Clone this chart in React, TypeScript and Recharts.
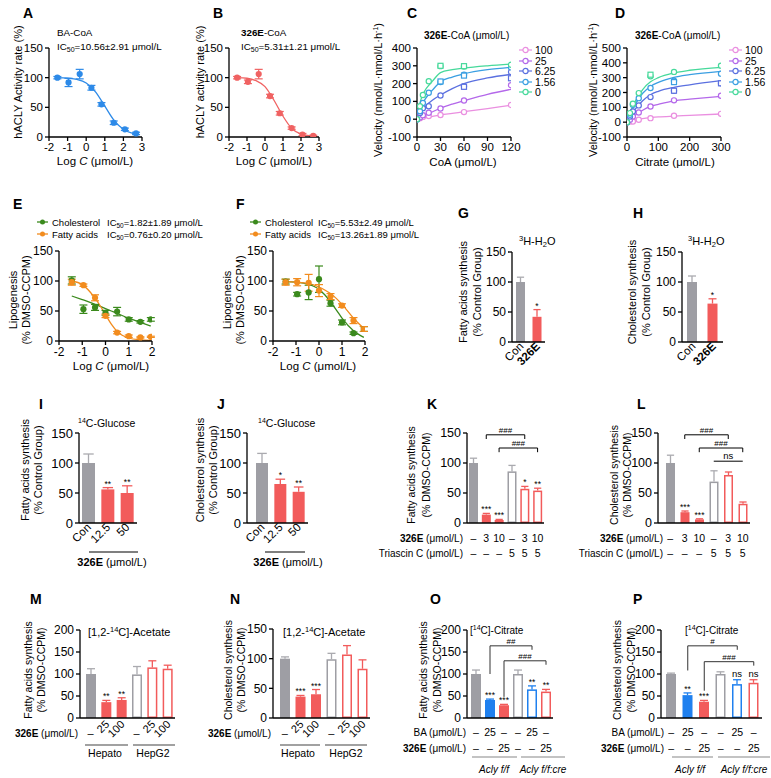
import React from "react";
import {
  ComposedChart,
  Line,
  Scatter,
  Bar,
  XAxis,
  YAxis,
  ErrorBar,
  ReferenceLine,
  Legend,
} from "recharts";

const PAGE_W = 771;
const PAGE_H = 778;
const Y_W = 40;
const X_H = 30;
const FONT = '"Liberation Sans", Arial, Helvetica, sans-serif';

// ---- A / B: hACLY activity vs log dose ----
const abLogC = [-1.55, -0.95, -0.35, 0.28, 0.82, 1.48, 2.08, 2.68];
const baCoaRate = [100, 92, 106, 83, 55, 24, 13, 6];
const baCoaErr = [2, 7, 8, 4, 3, 3, 2, 2];
const e326CoaRate = [100, 93, 106, 69, 40, 15, 4, 2];
const e326CoaErr = [2, 3, 8, 3, 3, 2, 2, 1];
const abFitLogC = [-1.55, -1, -0.5, 0, 0.5, 1, 1.5, 2, 2.5, 2.7];
const baCoaFit = [100, 99, 97, 91, 76, 52, 28, 13, 6, 5];
const e326CoaFit = [100, 99, 95, 85, 62, 35, 14, 5, 2, 1];

// ---- C: velocity vs CoA ----
const concLabels = ["100", "25", "6.25", "1.56", "0"];
const concColors = ["#ea8fe0", "#b468ea", "#5b70e0", "#3a9fe2", "#46d99b"];
const coaConc = [0, 3.75, 7.5, 15, 30, 60, 120];
const coaV100 = [0, 5, 13, 18, 24, 40, 80];
const coaV25 = [0, 10, 22, 36, 60, 105, 191];
const coaV625 = [0, 35, 62, 73, 133, 185, 265];
const coaV156 = [0, 45, 91, 149, 209, 250, 291];
const coaV0 = [0, 73, 136, 213, 298, 296, 306];
// replicate points drawn as squares
const coaSqX625 = [60, 120];
const coaSqY625 = [182, 230];
const coaSqX156 = [30, 60];
const coaSqY156 = [212, 245];
const coaSqX0 = [30, 60];
const coaSqY0 = [300, 298];
const coaFitX = [1, 5, 10, 15, 20, 30, 45, 60, 90, 120];
const coaFit100 = [1, 5, 9, 12, 16, 24, 33, 42, 60, 78];
const coaFit25 = [3, 14, 24, 33, 42, 62, 85, 104, 140, 168];
const coaFit625 = [8, 40, 68, 91, 108, 136, 172, 200, 232, 252];
const coaFit156 = [15, 70, 110, 140, 165, 210, 237, 255, 278, 292];
const coaFit0 = [25, 110, 160, 190, 215, 262, 278, 287, 300, 310];

// ---- D: velocity vs citrate ----
const citConc = [0, 9.4, 18.75, 37.5, 75, 150, 300];
const citV100 = [0, 5, 5, 16, 27, 43, 56];
const citV25 = [0, 16, 38, 65, 106, 147, 178];
const citV625 = [0, 38, 72, 113, 169, 212, 262];
const citV156 = [0, 50, 117, 162, 230, 280, 327];
const citV0 = [0, 61, 125, 196, 310, 339, 381];
const citSqX625 = [150, 300];
const citSqY625 = [212, 262];
const citSqX156 = [150];
const citSqY156 = [270];
const citSqX0 = [75];
const citSqY0 = [320];
const citFitX = [2, 10, 25, 50, 75, 100, 150, 200, 300];
const citFit100 = [2, 8, 16, 24, 30, 35, 41, 46, 55];
const citFit25 = [5, 20, 45, 80, 106, 120, 144, 155, 174];
const citFit625 = [10, 40, 85, 145, 185, 208, 235, 252, 280];
const citFit156 = [12, 55, 115, 195, 241, 268, 302, 320, 343];
const citFit0 = [15, 65, 135, 220, 272, 300, 332, 350, 370];

// ---- E / F: lipogenesis ----
const lipoNames = ["Cholesterol", "Fatty acids"];
const lipoColors = ["#3b8a1d", "#f28c1e"];
const lipoLogC = [-1.45, -0.95, -0.45, 0, 0.5, 1, 1.5, 1.95];
const eChol = [101, 53, 56, 47, 49, 36, 32, 36];
const eCholErr = [6, 7, 5, 4, 7, 3, 2, 3];
const eFa = [98, 93, 72, 42, 14, 8, 6, 7];
const eFaErr = [5, 2, 5, 3, 2, 2, 1, 1];
const eFitX = [-1.45, -1, -0.5, -0.25, 0, 0.25, 0.5, 1, 1.5, 1.95];
const eCholFit = [75, 69, 62, 58, 54, 50, 46, 38, 31, 25];
const eFaFit = [100, 94, 74, 60, 44, 28, 16, 5, 2, 1];
const eIc50 = ["1.82±1.89", "0.76±0.20"];
const fChol = [99, 78, 81, 103, 63, 31, 13, 20];
const fCholErr = [4, 3, 12, 22, 5, 4, 2, 4];
const fFa = [98, 98, 97, 84, 74, 59, 34, 20];
const fFaErr = [5, 6, 14, 10, 5, 3, 5, 4];
const fFitX = [-1.45, -1, -0.5, 0, 0.25, 0.5, 0.75, 1, 1.5, 1.95];
const fCholFit = [99, 98, 95, 86, 77, 65, 52, 38, 17, 6];
const fFaFit = [99, 98, 96, 90, 85, 79, 71, 61, 38, 21];
const fIc50 = ["5.53±2.49", "13.26±1.89"];

// ---- G-P: bar panels ----
const ghLabels = ["Con", "326E"];
const gValues = [100, 42];
const gErrs = [8, 12];
const gStars = ["", "*"];
const hValues = [100, 64];
const hErrs = [10, 8];
const hStars = ["", "*"];
const ijLabels = ["Con", "12.5", "50"];
const iValues = [100, 56, 50];
const iErrs = [15, 3, 12];
const iStars = ["", "**", "**"];
const jValues = [100, 65, 52];
const jErrs = [16, 8, 8];
const jStars = ["", "*", "**"];
const klDose = ["–", "3", "10", "–", "3", "10"];
const klTriascin = ["–", "–", "–", "5", "5", "5"];
const kValues = [100, 14, 5, 86, 57, 54];
const kErrs = [8, 2, 1, 10, 4, 4];
const kStars = ["", "***", "***", "", "*", "**"];
const lValues = [100, 18, 6, 69, 80, 32];
const lErrs = [13, 2, 1, 18, 5, 3];
const lStars = ["", "***", "***", "", "", ""];
const mnDose = ["–", "25", "100", "–", "25", "100"];
const mValues = [100, 36, 41, 99, 115, 112];
const mErrs = [12, 4, 5, 18, 15, 8];
const mStars = ["", "**", "**", "", "", ""];
const nValues = [100, 36, 40, 99, 107, 83];
const nErrs = [3, 2, 8, 10, 15, 15];
const nStars = ["", "***", "***", "", "", ""];
const opBA = ["–", "25", "–", "–", "25", "–"];
const op326E = ["–", "–", "25", "–", "–", "25"];
const oValues = [100, 41, 29, 100, 65, 60];
const oErrs = [9, 2, 2, 9, 8, 5];
const oStars = ["", "***", "***", "", "**", "**"];
const pValues = [100, 52, 37, 100, 77, 80];
const pErrs = [2, 5, 3, 5, 10, 7];
const pStars = ["", "**", "***", "", "ns", "ns"];

const twoKinds = ["gray-fill", "red-fill"];
const threeKinds = ["gray-fill", "red-fill", "red-fill"];
const sixKinds = ["gray-fill", "red-fill", "red-fill", "gray-open", "red-open", "red-open"];
const opKinds = ["gray-fill", "blue-fill", "red-fill", "gray-open", "blue-open", "red-open"];

const kBrackets = [
  { from: 1, to: 4, y: 147, dl: 140, dr: 140, text: "###" },
  { from: 2, to: 5, y: 125, dl: 118, dr: 118, text: "###" },
];
const lBrackets = [
  { from: 1, to: 4, y: 147, dl: 140, dr: 140, text: "###" },
  { from: 2, to: 5, y: 125, dl: 118, dr: 118, text: "###" },
  { from: 3, to: 5, y: 103, dl: 103, dr: 103, text: "ns" },
];
const oBrackets = [
  { from: 1, to: 4, y: 164, dl: 100, dr: 155, text: "##" },
  { from: 2, to: 5, y: 130, dl: 48, dr: 121, text: "###" },
];
const pBrackets = [
  { from: 1, to: 4, y: 164, dl: 108, dr: 155, text: "#" },
  { from: 2, to: 5, y: 128, dl: 62, dr: 119, text: "###" },
];

const barColor: Record<string, string> = { gray: "#9e9ea4", red: "#f25b5b", blue: "#1f80ef" };
const errColor: Record<string, string> = { gray: "#aaaaaf", red: "#f25b5b", blue: "#1f80ef" };

const AX = { stroke: "#000", strokeWidth: 1.3 };

type Box = { x0: number; x1: number; y0: number; y1: number };

function marginFor(b: Box) {
  return { left: b.x0 - Y_W, right: PAGE_W - b.x1, top: b.y0, bottom: PAGE_H - b.y1 - X_H };
}

const zip = (xs: number[], ys: number[], es?: number[]) =>
  xs.map((x, i) => ({ x, y: ys[i], e: es ? es[i] : 0 }));

function Layer({ children }: { children: React.ReactNode }) {
  return <div style={{ position: "absolute", left: 0, top: 0 }}>{children}</div>;
}

type Pt = { x: number; y: number; e: number };
type Series = {
  name: string;
  color: string;
  fit: { x: number; y: number }[];
  pts: Pt[];
  sq?: Pt[];
  hollow?: boolean;
  err?: boolean;
};

function CurvePanel({
  box,
  xDomain,
  xTicks,
  yDomain,
  yTicks,
  series,
  legend,
  tickFs = 11.5,
}: {
  box: Box;
  xDomain: number[];
  xTicks: number[];
  yDomain: number[];
  yTicks: number[];
  series: Series[];
  legend?: { left: number; top: number; node: React.ReactNode };
  tickFs?: number;
}) {
  const tick = { fill: "#000", fontSize: tickFs };
  return (
    <Layer>
      <ComposedChart width={PAGE_W} height={PAGE_H} margin={marginFor(box)}>
        <XAxis
          type="number"
          dataKey="x"
          domain={xDomain}
          ticks={xTicks}
          interval={0}
          allowDataOverflow
          height={X_H}
          axisLine={AX}
          tickLine={AX}
          tickSize={4}
          tick={tick}
        />
        <YAxis
          type="number"
          dataKey="y"
          domain={yDomain}
          ticks={yTicks}
          interval={0}
          allowDataOverflow
          width={Y_W}
          axisLine={AX}
          tickLine={AX}
          tickSize={4}
          tick={tick}
        />
        {series.map((s) => (
          <Line
            key={"l" + s.name}
            name={s.name}
            data={s.fit}
            dataKey="y"
            type="monotone"
            stroke={s.color}
            strokeWidth={1.3}
            dot={false}
            isAnimationActive={false}
          />
        ))}
        {series.map((s) => (
          <Scatter
            key={"s" + s.name}
            data={s.pts}
            dataKey="y"
            fill={s.color}
            legendType="none"
            isAnimationActive={false}
            shape={(p: any) =>
              s.hollow ? (
                <circle cx={p.cx} cy={p.cy} r={2.6} fill="#fff" stroke={s.color} strokeWidth={1.2} />
              ) : (
                <circle cx={p.cx} cy={p.cy} r={3.1} fill={s.color} />
              )
            }
          >
            {s.err && <ErrorBar dataKey="e" direction="y" width={4} stroke={s.color} strokeWidth={1.2} />}
          </Scatter>
        ))}
        {series
          .filter((s) => s.sq && s.sq.length)
          .map((s) => (
            <Scatter
              key={"q" + s.name}
              data={s.sq}
              dataKey="y"
              fill={s.color}
              legendType="none"
              isAnimationActive={false}
              shape={(p: any) => (
                <rect
                  x={p.cx - 2.5}
                  y={p.cy - 2.5}
                  width={5}
                  height={5}
                  fill="#fff"
                  stroke={s.color}
                  strokeWidth={1.2}
                />
              )}
            />
          ))}
        {legend && (
          <Legend
            layout="vertical"
            align="center"
            verticalAlign="middle"
            wrapperStyle={{ left: legend.left, top: legend.top, width: "auto" }}
            content={() => legend.node}
          />
        )}
      </ComposedChart>
    </Layer>
  );
}

function ConcLegend() {
  return (
    <div style={{ fontSize: 10.5, color: "#000", fontFamily: FONT }}>
      {concLabels.map((c, i) => (
        <div key={c} style={{ display: "flex", alignItems: "center", height: 10.5, whiteSpace: "nowrap" }}>
          <svg width={13} height={8} style={{ marginRight: 3 }}>
            <line x1={0} y1={4} x2={13} y2={4} stroke={concColors[i]} strokeWidth={1.2} />
            <circle cx={6.5} cy={4} r={2.6} fill="#fff" stroke={concColors[i]} strokeWidth={1.2} />
          </svg>
          <span>{c}</span>
        </div>
      ))}
    </div>
  );
}

function IcLegend({ ics, nameW }: { ics: string[]; nameW: number }) {
  return (
    <div style={{ fontSize: 9.5, color: "#000", fontFamily: FONT }}>
      {lipoNames.map((n, i) => (
        <div key={n} style={{ display: "flex", alignItems: "center", height: 12, whiteSpace: "nowrap" }}>
          <svg width={11} height={8} style={{ marginRight: 4 }}>
            <line x1={0} y1={4} x2={11} y2={4} stroke={lipoColors[i]} strokeWidth={1.3} />
            <circle cx={5.5} cy={4} r={2.5} fill={lipoColors[i]} />
          </svg>
          <span style={{ display: "inline-block", width: nameW }}>{n}</span>
          <span>
            IC<span style={{ fontSize: 6.5, position: "relative", top: 2 }}>50</span>={ics[i]} μmol/L
          </span>
        </div>
      ))}
    </div>
  );
}

function BarShape(props: any) {
  const { x, y, width, height, payload } = props;
  const [tone, style] = String(payload.kind).split("-");
  const col = barColor[tone];
  const ecol = errColor[tone];
  const hollow = style === "open";
  const per = payload.v ? height / payload.v : 0;
  const top = y - payload.err * per;
  const cx = x + width / 2;
  const cap = width * 0.4;
  return (
    <g>
      {hollow ? (
        <rect
          x={x + 0.75}
          y={y + 0.75}
          width={Math.max(width - 1.5, 0)}
          height={Math.max(height - 1.5, 0)}
          fill="#fff"
          stroke={col}
          strokeWidth={1.5}
        />
      ) : (
        <rect x={x} y={y} width={width} height={height} fill={col} />
      )}
      {payload.err > 0 && (
        <g stroke={ecol} strokeWidth={1.3}>
          <line x1={cx} x2={cx} y1={y} y2={top} />
          <line x1={cx - cap} x2={cx + cap} y1={top} y2={top} />
        </g>
      )}
      {payload.star && (
        <text
          x={cx}
          y={payload.star === "ns" ? top - 3 : top - 1}
          textAnchor="middle"
          fontSize={payload.star === "ns" ? 9.5 : 8.5}
          fill="#000"
        >
          {payload.star}
        </text>
      )}
    </g>
  );
}

type Bracket = { from: number; to: number; y: number; dl: number; dr: number; text: string };

function BarPanel({
  box,
  padLeft = 0,
  yMax,
  yTicks,
  values,
  errs,
  kinds,
  stars,
  barSize,
  brackets = [],
  tick,
  bracketColor = "#000",
  tickFs = 12,
}: {
  box: Box;
  padLeft?: number;
  yMax: number;
  yTicks: number[];
  values: number[];
  errs: number[];
  kinds: string[];
  stars: string[];
  barSize: number;
  brackets?: Bracket[];
  tick: any;
  bracketColor?: string;
  tickFs?: number;
}) {
  const data = values.map((v, i) => ({ name: String(i), v, err: errs[i], kind: kinds[i], star: stars[i] }));
  return (
    <Layer>
      <ComposedChart width={PAGE_W} height={PAGE_H} margin={marginFor(box)} data={data}>
        <XAxis
          dataKey="name"
          type="category"
          height={X_H}
          axisLine={AX}
          tickLine={false}
          tickSize={0}
          tickMargin={0}
          interval={0}
          padding={{ left: padLeft, right: 0 }}
          tick={tick}
        />
        <YAxis
          type="number"
          domain={[0, yMax]}
          ticks={yTicks}
          interval={0}
          width={Y_W}
          axisLine={AX}
          tickLine={AX}
          tickSize={4}
          tick={{ fill: "#000", fontSize: tickFs }}
        />
        <Bar dataKey="v" barSize={barSize} shape={BarShape} isAnimationActive={false} />
        {brackets.flatMap((b, k) => {
          const a = String(b.from);
          const z = String(b.to);
          const out = [
            <ReferenceLine
              key={"h" + k}
              segment={[
                { x: a, y: b.y },
                { x: z, y: b.y },
              ]}
              stroke={bracketColor}
              strokeWidth={1}
              label={(p: any) => {
                const vb = p.viewBox || {};
                return (
                  <text
                    x={(vb.x || 0) + (vb.width || 0) / 2}
                    y={(vb.y || 0) - 2}
                    textAnchor="middle"
                    fontSize={b.text === "ns" ? 9.5 : 8}
                    fill="#000"
                  >
                    {b.text}
                  </text>
                );
              }}
            />,
          ];
          if (b.dl !== b.y)
            out.push(
              <ReferenceLine
                key={"l" + k}
                segment={[
                  { x: a, y: b.y },
                  { x: a, y: b.dl },
                ]}
                stroke={bracketColor}
                strokeWidth={1}
              />
            );
          if (b.dr !== b.y)
            out.push(
              <ReferenceLine
                key={"r" + k}
                segment={[
                  { x: z, y: b.y },
                  { x: z, y: b.dr },
                ]}
                stroke={bracketColor}
                strokeWidth={1}
              />
            );
          return out;
        })}
      </ComposedChart>
    </Layer>
  );
}

const rotTick = (labels: string[], boldIdx: number, fs: number, dx: number) => (p: any) => (
  <text
    transform={`translate(${p.x + dx},${p.y + 5}) rotate(-45)`}
    textAnchor="end"
    fontSize={fs}
    fontWeight={p.index === boldIdx ? "bold" : "normal"}
    fill="#000"
  >
    {labels[p.index]}
  </text>
);

const rowsTick = (rows: string[][], dys: number[], fs: number) => (p: any) => (
  <g>
    {rows.map((r, k) => (
      <text key={k} x={p.x} y={p.y + dys[k]} textAnchor="middle" fontSize={fs} fill="#000">
        {r[p.index]}
      </text>
    ))}
  </g>
);

const mnTick = (p: any) => {
  const lab = mnDose[p.index];
  if (lab === "–")
    return (
      <text x={p.x} y={p.y + 19} textAnchor="middle" fontSize={11} fill="#000">
        {lab}
      </text>
    );
  return (
    <text transform={`translate(${p.x + 4},${p.y + 7}) rotate(-45)`} textAnchor="end" fontSize={11} fill="#000">
      {lab}
    </text>
  );
};

// ---------- free text ----------
function T({
  x,
  y,
  fs = 10,
  anchor = "start",
  bold = false,
  italic = false,
  children,
}: {
  x: number;
  y: number;
  fs?: number;
  anchor?: string;
  bold?: boolean;
  italic?: boolean;
  children: React.ReactNode;
}) {
  return (
    <text
      x={x}
      y={y}
      fontSize={fs}
      textAnchor={anchor as any}
      fontWeight={bold ? "bold" : "normal"}
      fontStyle={italic ? "italic" : "normal"}
      fill="#000"
    >
      {children}
    </text>
  );
}

function RT({ cx, cy, fs = 10.5, children }: { cx: number; cy: number; fs?: number; children: React.ReactNode }) {
  return (
    <text transform={`translate(${cx + fs * 0.36},${cy}) rotate(-90)`} textAnchor="middle" fontSize={fs} fill="#000">
      {children}
    </text>
  );
}

function Overlay() {
  const letters: [string, number, number][] = [
    ["A", 23, 18], ["B", 213, 18], ["C", 407, 18], ["D", 615, 18],
    ["E", 13, 209], ["F", 236, 209], ["G", 458, 218], ["H", 633, 218],
    ["I", 39, 409], ["J", 217, 409], ["K", 427, 409], ["L", 637, 409],
    ["M", 30, 604], ["N", 230, 604], ["O", 430, 604], ["P", 633, 604],
  ];
  const logC = (x: number, y: number) => (
    <T x={x} y={y} fs={11.5} anchor="middle">
      Log <tspan fontStyle="italic">C</tspan> (μmol/L)
    </T>
  );
  const line = (x1: number, x2: number, y: number, c: string) => (
    <line x1={x1} x2={x2} y1={y} y2={y} stroke={c} strokeWidth={1.2} />
  );
  return (
    <svg
      width={PAGE_W}
      height={PAGE_H}
      style={{ position: "absolute", left: 0, top: 0, pointerEvents: "none", fontFamily: FONT }}
    >
      {letters.map(([l, x, y]) => (
        <T key={l} x={x} y={y} fs={14} bold>
          {l}
        </T>
      ))}
      {/* A-D titles */}
      <T x={57} y={36} fs={9.8}>BA-CoA</T>
      <T x={57} y={50} fs={9.8}>
        IC<tspan fontSize={7} dy={2}>50</tspan>
        <tspan dy={-2}>=10.56±2.91 μmol/L</tspan>
      </T>
      <T x={241} y={36} fs={9.8}>
        <tspan fontWeight="bold">326E</tspan>-CoA
      </T>
      <T x={241} y={50} fs={9.8}>
        IC<tspan fontSize={7} dy={2}>50</tspan>
        <tspan dy={-2}>=5.31±1.21 μmol/L</tspan>
      </T>
      <T x={424} y={39} fs={10}>
        <tspan fontWeight="bold">326E</tspan>-CoA (μmol/L)
      </T>
      <T x={635} y={39} fs={10}>
        <tspan fontWeight="bold">326E</tspan>-CoA (μmol/L)
      </T>
      {logC(95, 165)}
      {logC(274, 165)}
      <T x={463} y={166} fs={11.5} anchor="middle">CoA (μmol/L)</T>
      <T x={675} y={166} fs={11.5} anchor="middle">Citrate (μmol/L)</T>
      <RT cx={18} cy={82} fs={11}>hACLY Activity rate (%)</RT>
      <RT cx={200} cy={82} fs={11}>hACLY activity rate (%)</RT>
      <RT cx={378} cy={90} fs={11}>
        Velocity (nmol/L·nmol/L·h<tspan fontSize={7} dy={-4}>-1</tspan>
        <tspan dy={4}>)</tspan>
      </RT>
      <RT cx={593} cy={90} fs={11}>
        Velocity (nmol/L·nmol/L·h<tspan fontSize={7} dy={-4}>-1</tspan>
        <tspan dy={4}>)</tspan>
      </RT>
      {/* E / F */}
      {logC(111, 370)}
      {logC(318, 370)}
      <RT cx={13} cy={300} fs={11}>Lipogenesis</RT>
      <RT cx={26} cy={300} fs={11}>(% DMSO-CCPM)</RT>
      <RT cx={227} cy={300} fs={11}>Lipogenesis</RT>
      <RT cx={240} cy={300} fs={11}>(% DMSO-CCPM)</RT>
      {/* G / H */}
      {[519, 688].map((x) => (
        <T key={x} x={x} y={245} fs={11}>
          <tspan fontSize={7.5} dy={-4}>3</tspan>
          <tspan dy={4}>H-H</tspan>
          <tspan fontSize={7.5} dy={2}>2</tspan>
          <tspan dy={-2}>O</tspan>
        </T>
      ))}
      <RT cx={463} cy={292} fs={11}>Fatty acids synthesis</RT>
      <RT cx={477} cy={292} fs={11}>(% Control Group)</RT>
      <RT cx={632} cy={292} fs={11}>Cholesterol synthesis</RT>
      <RT cx={646} cy={292} fs={11}>(% Control Group)</RT>
      {/* I / J */}
      {[78, 258].map((x) => (
        <T key={x} x={x} y={427} fs={10.5}>
          <tspan fontSize={7} dy={-4}>14</tspan>
          <tspan dy={4}>C-Glucose</tspan>
        </T>
      ))}
      <RT cx={25} cy={470} fs={11}>Fatty acids synthesis</RT>
      <RT cx={38} cy={470} fs={11}>(% Control Group)</RT>
      <RT cx={200} cy={470} fs={11}>Cholesterol synthesis</RT>
      <RT cx={213} cy={470} fs={11}>(% Control Group)</RT>
      {line(89, 138, 552, "#000")}
      {line(265, 305, 552, "#000")}
      <T x={112} y={566} fs={11} anchor="middle">
        <tspan fontWeight="bold">326E</tspan> (μmol/L)
      </T>
      <T x={288} y={566} fs={11} anchor="middle">
        <tspan fontWeight="bold">326E</tspan> (μmol/L)
      </T>
      {/* K / L */}
      <RT cx={411} cy={475} fs={10.5}>Fatty acids synthesis</RT>
      <RT cx={426} cy={475} fs={10.5}>(% DMSO-CCPM)</RT>
      <RT cx={614} cy={475} fs={10.5}>Cholesterol synthesis</RT>
      <RT cx={627} cy={475} fs={10.5}>(% DMSO-CCPM)</RT>
      {[463, 663].map((x) => (
        <g key={x}>
          <T x={x} y={542} fs={10} anchor="end">
            <tspan fontWeight="bold">326E</tspan> (μmol/L)
          </T>
          <T x={x} y={557} fs={10} anchor="end">Triascin C (μmol/L)</T>
        </g>
      ))}
      {/* M / N */}
      <T x={88} y={636} fs={11}>
        [1,2-<tspan fontSize={7.5} dy={-4}>14</tspan>
        <tspan dy={4}>C]-Acetate</tspan>
      </T>
      <T x={283} y={636} fs={11}>
        [1,2-<tspan fontSize={7.5} dy={-4}>14</tspan>
        <tspan dy={4}>C]-Acetate</tspan>
      </T>
      <RT cx={28} cy={670} fs={10.5}>Fatty acids synthesis</RT>
      <RT cx={41} cy={670} fs={10.5}>(% DMSO-CCPM)</RT>
      <RT cx={228} cy={670} fs={10.5}>Cholesterol synthesis</RT>
      <RT cx={241} cy={670} fs={10.5}>(% DMSO-CCPM)</RT>
      <T x={78} y={737} fs={10} anchor="end">
        <tspan fontWeight="bold">326E</tspan> (μmol/L)
      </T>
      <T x={271} y={737} fs={10} anchor="end">
        <tspan fontWeight="bold">326E</tspan> (μmol/L)
      </T>
      {line(85, 128, 745, "#444")}
      {line(133, 175, 745, "#444")}
      {line(280, 320, 745, "#444")}
      {line(325, 367, 745, "#444")}
      <T x={105} y={757} fs={10.5} anchor="middle">Hepato</T>
      <T x={153} y={757} fs={10.5} anchor="middle">HepG2</T>
      <T x={298} y={757} fs={10.5} anchor="middle">Hepato</T>
      <T x={346} y={757} fs={10.5} anchor="middle">HepG2</T>
      {/* O / P */}
      {[470, 685].map((x) => (
        <T key={x} x={x} y={634} fs={10}>
          [<tspan fontSize={7} dy={-4}>14</tspan>
          <tspan dy={4}>C]-Citrate</tspan>
        </T>
      ))}
      <RT cx={423} cy={670} fs={10.5}>Fatty acids synthesis</RT>
      <RT cx={437} cy={670} fs={10.5}>(% DMSO-CCPM)</RT>
      <RT cx={617} cy={670} fs={10.5}>Cholesterol synthesis</RT>
      <RT cx={631} cy={670} fs={10.5}>(% DMSO-CCPM)</RT>
      {[466, 664].map((x) => (
        <g key={x}>
          <T x={x} y={736} fs={10} anchor="end">BA (μmol/L)</T>
          <T x={x} y={752} fs={10} anchor="end">
            <tspan fontWeight="bold">326E</tspan> (μmol/L)
          </T>
        </g>
      ))}
      {line(472, 517, 757, "#888")}
      {line(521, 565, 757, "#888")}
      {line(672, 713, 757, "#888")}
      {line(718, 770, 757, "#888")}
      <T x={494} y={773} fs={10} anchor="middle" italic>Acly f/f</T>
      <T x={543} y={773} fs={10} anchor="middle" italic>Acly f/f:cre</T>
      <T x={690} y={773} fs={10} anchor="middle" italic>Acly f/f</T>
      <T x={744} y={773} fs={10} anchor="middle" italic>Acly f/f:cre</T>
    </svg>
  );
}

const concSeries = (
  xs: number[],
  vals: number[][],
  fitX: number[],
  fits: number[][],
  sqs: (Pt[] | undefined)[]
): Series[] =>
  concLabels.map((c, i) => ({
    name: c,
    color: concColors[i],
    fit: zip(fitX, fits[i]),
    pts: zip(xs, vals[i]),
    sq: sqs[i],
    hollow: true,
  }));

export default function App() {
  const ticks150 = [0, 50, 100, 150];
  const ticks200 = [0, 50, 100, 150, 200];
  return (
    <div
      style={{
        position: "absolute",
        left: 0,
        top: 0,
        width: PAGE_W,
        height: PAGE_H,
        background: "#fff",
        overflow: "hidden",
        fontFamily: FONT,
      }}
    >
      <CurvePanel
        box={{ x0: 49, x1: 142, y0: 48, y1: 137 }}
        xDomain={[-2, 3]}
        xTicks={[-2, -1, 0, 1, 2, 3]}
        yDomain={[0, 150]}
        yTicks={ticks150}
        series={[
          {
            name: "BA-CoA",
            color: "#2d8ae8",
            fit: zip(abFitLogC, baCoaFit),
            pts: zip(abLogC, baCoaRate, baCoaErr),
            err: true,
          },
        ]}
      />
      <CurvePanel
        box={{ x0: 229, x1: 319, y0: 48, y1: 137 }}
        xDomain={[-2, 3]}
        xTicks={[-2, -1, 0, 1, 2, 3]}
        yDomain={[0, 150]}
        yTicks={ticks150}
        series={[
          {
            name: "326E-CoA",
            color: "#f06262",
            fit: zip(abFitLogC, e326CoaFit),
            pts: zip(abLogC, e326CoaRate, e326CoaErr),
            err: true,
          },
        ]}
      />
      <CurvePanel
        box={{ x0: 417, x1: 511, y0: 48, y1: 137 }}
        xDomain={[0, 120]}
        xTicks={[0, 30, 60, 90, 120]}
        yDomain={[-100, 400]}
        yTicks={[-100, 0, 100, 200, 300, 400]}
        series={concSeries(
          coaConc,
          [coaV100, coaV25, coaV625, coaV156, coaV0],
          coaFitX,
          [coaFit100, coaFit25, coaFit625, coaFit156, coaFit0],
          [undefined, undefined, zip(coaSqX625, coaSqY625), zip(coaSqX156, coaSqY156), zip(coaSqX0, coaSqY0)]
        )}
        legend={{ left: 519, top: 45, node: <ConcLegend /> }}
      />
      <CurvePanel
        box={{ x0: 627, x1: 721, y0: 48, y1: 137 }}
        xDomain={[0, 300]}
        xTicks={[0, 100, 200, 300]}
        yDomain={[-100, 500]}
        yTicks={[-100, 0, 100, 200, 300, 400, 500]}
        series={concSeries(
          citConc,
          [citV100, citV25, citV625, citV156, citV0],
          citFitX,
          [citFit100, citFit25, citFit625, citFit156, citFit0],
          [undefined, undefined, zip(citSqX625, citSqY625), zip(citSqX156, citSqY156), zip(citSqX0, citSqY0)]
        )}
        legend={{ left: 729, top: 45, node: <ConcLegend /> }}
      />
      <CurvePanel
        box={{ x0: 59, x1: 152, y0: 251, y1: 341 }}
        xDomain={[-2, 2]}
        xTicks={[-2, -1, 0, 1, 2]}
        yDomain={[0, 150]}
        yTicks={ticks150}
        tickFs={12}
        series={[
          { name: lipoNames[0], color: lipoColors[0], fit: zip(eFitX, eCholFit), pts: zip(lipoLogC, eChol, eCholErr), err: true },
          { name: lipoNames[1], color: lipoColors[1], fit: zip(eFitX, eFaFit), pts: zip(lipoLogC, eFa, eFaErr), err: true },
        ]}
        legend={{ left: 37, top: 216, node: <IcLegend ics={eIc50} nameW={55} /> }}
      />
      <CurvePanel
        box={{ x0: 273, x1: 365, y0: 251, y1: 341 }}
        xDomain={[-2, 2]}
        xTicks={[-2, -1, 0, 1, 2]}
        yDomain={[0, 150]}
        yTicks={ticks150}
        tickFs={12}
        series={[
          { name: lipoNames[0], color: lipoColors[0], fit: zip(fFitX, fCholFit), pts: zip(lipoLogC, fChol, fCholErr), err: true },
          { name: lipoNames[1], color: lipoColors[1], fit: zip(fFitX, fFaFit), pts: zip(lipoLogC, fFa, fFaErr), err: true },
        ]}
        legend={{ left: 250, top: 216, node: <IcLegend ics={fIc50} nameW={53} /> }}
      />
      <BarPanel
        box={{ x0: 512, x1: 545, y0: 252, y1: 342 }}
        yMax={150}
        yTicks={ticks150}
        values={gValues}
        errs={gErrs}
        kinds={twoKinds}
        stars={gStars}
        barSize={9}
        tick={rotTick(ghLabels, 1, 11.5, 4)}
      />
      <BarPanel
        box={{ x0: 682, x1: 723, y0: 252, y1: 342 }}
        yMax={150}
        yTicks={ticks150}
        values={hValues}
        errs={hErrs}
        kinds={twoKinds}
        stars={hStars}
        barSize={10}
        tick={rotTick(ghLabels, 1, 11.5, 4)}
      />
      <BarPanel
        box={{ x0: 79, x1: 137, y0: 433, y1: 523 }}
        yMax={150}
        yTicks={ticks150}
        values={iValues}
        errs={iErrs}
        kinds={threeKinds}
        stars={iStars}
        barSize={13}
        tickFs={13}
        tick={rotTick(ijLabels, -1, 11.5, 3)}
      />
      <BarPanel
        box={{ x0: 247, x1: 308, y0: 433, y1: 523 }}
        padLeft={6}
        yMax={150}
        yTicks={ticks150}
        values={jValues}
        errs={jErrs}
        kinds={threeKinds}
        stars={jStars}
        barSize={12}
        tickFs={13}
        tick={rotTick(ijLabels, -1, 11.5, 3)}
      />
      <BarPanel
        box={{ x0: 467, x1: 544, y0: 433, y1: 523 }}
        yMax={150}
        yTicks={ticks150}
        values={kValues}
        errs={kErrs}
        kinds={sixKinds}
        stars={kStars}
        barSize={9}
        tickFs={12.5}
        brackets={kBrackets}
        tick={rowsTick([klDose, klTriascin], [19, 34], 10.5)}
      />
      <BarPanel
        box={{ x0: 658, x1: 750, y0: 433, y1: 523 }}
        padLeft={5}
        yMax={150}
        yTicks={ticks150}
        values={lValues}
        errs={lErrs}
        kinds={sixKinds}
        stars={lStars}
        barSize={9}
        tickFs={12.5}
        brackets={lBrackets}
        tick={rowsTick([klDose, klTriascin], [19, 34], 10.5)}
      />
      <BarPanel
        box={{ x0: 80, x1: 175, y0: 630, y1: 718 }}
        padLeft={3}
        yMax={200}
        yTicks={ticks200}
        values={mValues}
        errs={mErrs}
        kinds={sixKinds}
        stars={mStars}
        barSize={10}
        tick={mnTick}
      />
      <BarPanel
        box={{ x0: 273, x1: 370, y0: 629, y1: 718 }}
        padLeft={4}
        yMax={150}
        yTicks={ticks150}
        values={nValues}
        errs={nErrs}
        kinds={sixKinds}
        stars={nStars}
        barSize={10}
        tick={mnTick}
      />
      <BarPanel
        box={{ x0: 467, x1: 553, y0: 630, y1: 718 }}
        padLeft={2}
        yMax={200}
        yTicks={ticks200}
        values={oValues}
        errs={oErrs}
        kinds={opKinds}
        stars={oStars}
        barSize={10}
        brackets={oBrackets}
        bracketColor="#333"
        tick={rowsTick([opBA, op326E], [18, 34], 10.5)}
      />
      <BarPanel
        box={{ x0: 661, x1: 762, y0: 630, y1: 718 }}
        padLeft={2}
        yMax={200}
        yTicks={ticks200}
        values={pValues}
        errs={pErrs}
        kinds={opKinds}
        stars={pStars}
        barSize={10}
        brackets={pBrackets}
        bracketColor="#333"
        tick={rowsTick([opBA, op326E], [18, 34], 10.5)}
      />
      <Overlay />
    </div>
  );
}
